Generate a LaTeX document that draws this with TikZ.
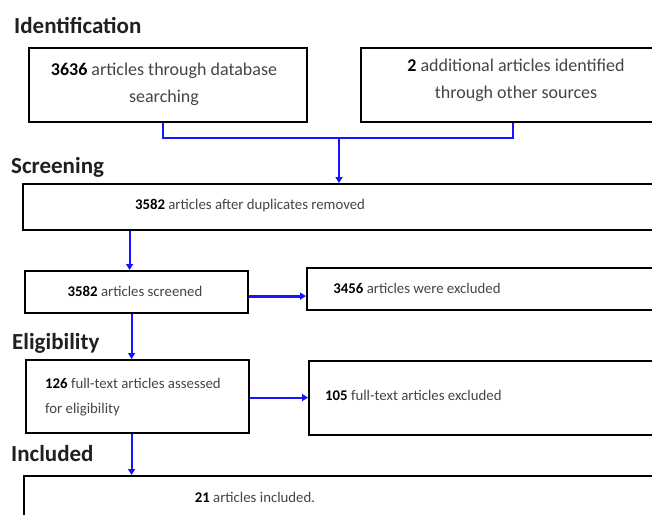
\documentclass[tikz,border=0pt]{standalone}
\usepackage{fontspec}
\setmainfont{Carlito}
\usetikzlibrary{arrows.meta,calc}
\definecolor{txtgray}{HTML}{454545}
\definecolor{headc}{HTML}{202020}
\definecolor{lineblue}{RGB}{20,20,255}
\tikzset{
  box/.style={draw=black, line width=2.2pt, fill=white, inner sep=0pt, anchor=north west},
  body/.style={font=\fontsize{14.8}{25}\selectfont, text=txtgray, inner sep=0pt, align=center},
  bigbody/.style={body, font=\fontsize{18}{27}\selectfont},
  head/.style={font=\fontsize{23}{25}\selectfont\bfseries, text=headc, anchor=base west, inner sep=0pt},
  conn/.style={draw=lineblue, line width=2pt},
  arr/.style={conn, -{Triangle[length=6pt,width=7pt]}},
}
\newcommand{\num}[1]{\textbf{\color{black}#1}}
\begin{document}
\begin{tikzpicture}[x=1pt,y=-1pt]
\useasboundingbox (0,0) rectangle (652,514);
\fill[white] (0,0) rectangle (652,514);
\clip (0,0) rectangle (652,514);

% headings
\node[head] (hid) at (14,33) {Identification};
\node[head] (hsc) at (11,173) {Screening};
\node[head] (hel) at (12,349) {Eligibility};
\node[head] (hin) at (11,461) {Included};

% boxes
\node[box, minimum width=278pt, minimum height=74pt] (b1) at (28,47) {};
\node[box, minimum width=312pt, minimum height=74pt] (b2) at (360,47) {};
\node[box, minimum width=660pt, minimum height=46pt] (b3) at (22,183) {};
\node[box, minimum width=223pt, minimum height=42pt] (b4) at (24,270) {};
\node[box, minimum width=360pt, minimum height=42pt] (b5) at (306,267) {};
\node[box, minimum width=223pt, minimum height=73pt] (b6) at (25,359) {};
\node[box, minimum width=360pt, minimum height=74pt] (b7) at (308,360) {};
\node[box, minimum width=660pt, minimum height=60pt] (b8) at (23,475) {};

% texts
\node[bigbody] (t1) at (164,84) {\num{3636} articles through database\\searching};
\node[bigbody] (t2) at (516,80) {\num{2} additional articles identified\\through other sources};
\node[body] (t3) at (250,206) {\num{3582} articles after duplicates removed};
\node[body] (t4) at (135,291) {\num{3582} articles screened};
\node[body] (t5) at (417,288) {\num{3456} articles were excluded};
\node[body, align=left, anchor=west] (t6) at (45,397) {\num{126} full-text articles assessed\\for eligibility};
\node[body, anchor=west] (t7) at (325,395) {\num{105} full-text articles excluded};
\node[body] (t8) at (255,497) {\num{21} articles included.};

% connectors
\coordinate (j) at (339,138);
\draw[conn] ([xshift=-5pt]b1.south) |- (j) -| ([xshift=-4pt]b2.south);
\draw[arr] (j) -- (j |- b3.north);
\draw[arr] ([xshift=-7pt]b4.north |- b3.south) -- ([xshift=-7pt]b4.north);
\draw[arr, line width=3pt] ([yshift=-4pt]b4.east) -- ([yshift=-4pt]b4.east -| b5.west);
\draw[arr] ([xshift=-6pt]b6.north |- b4.south) -- ([xshift=-6pt]b6.north);
\draw[arr] ([yshift=-1pt]b6.east) -- ([yshift=-1pt]b6.east -| b7.west);
\draw[arr] ([xshift=-6pt]b6.south) -- ([xshift=-6pt]b6.south |- b8.north);
\end{tikzpicture}
\end{document}
